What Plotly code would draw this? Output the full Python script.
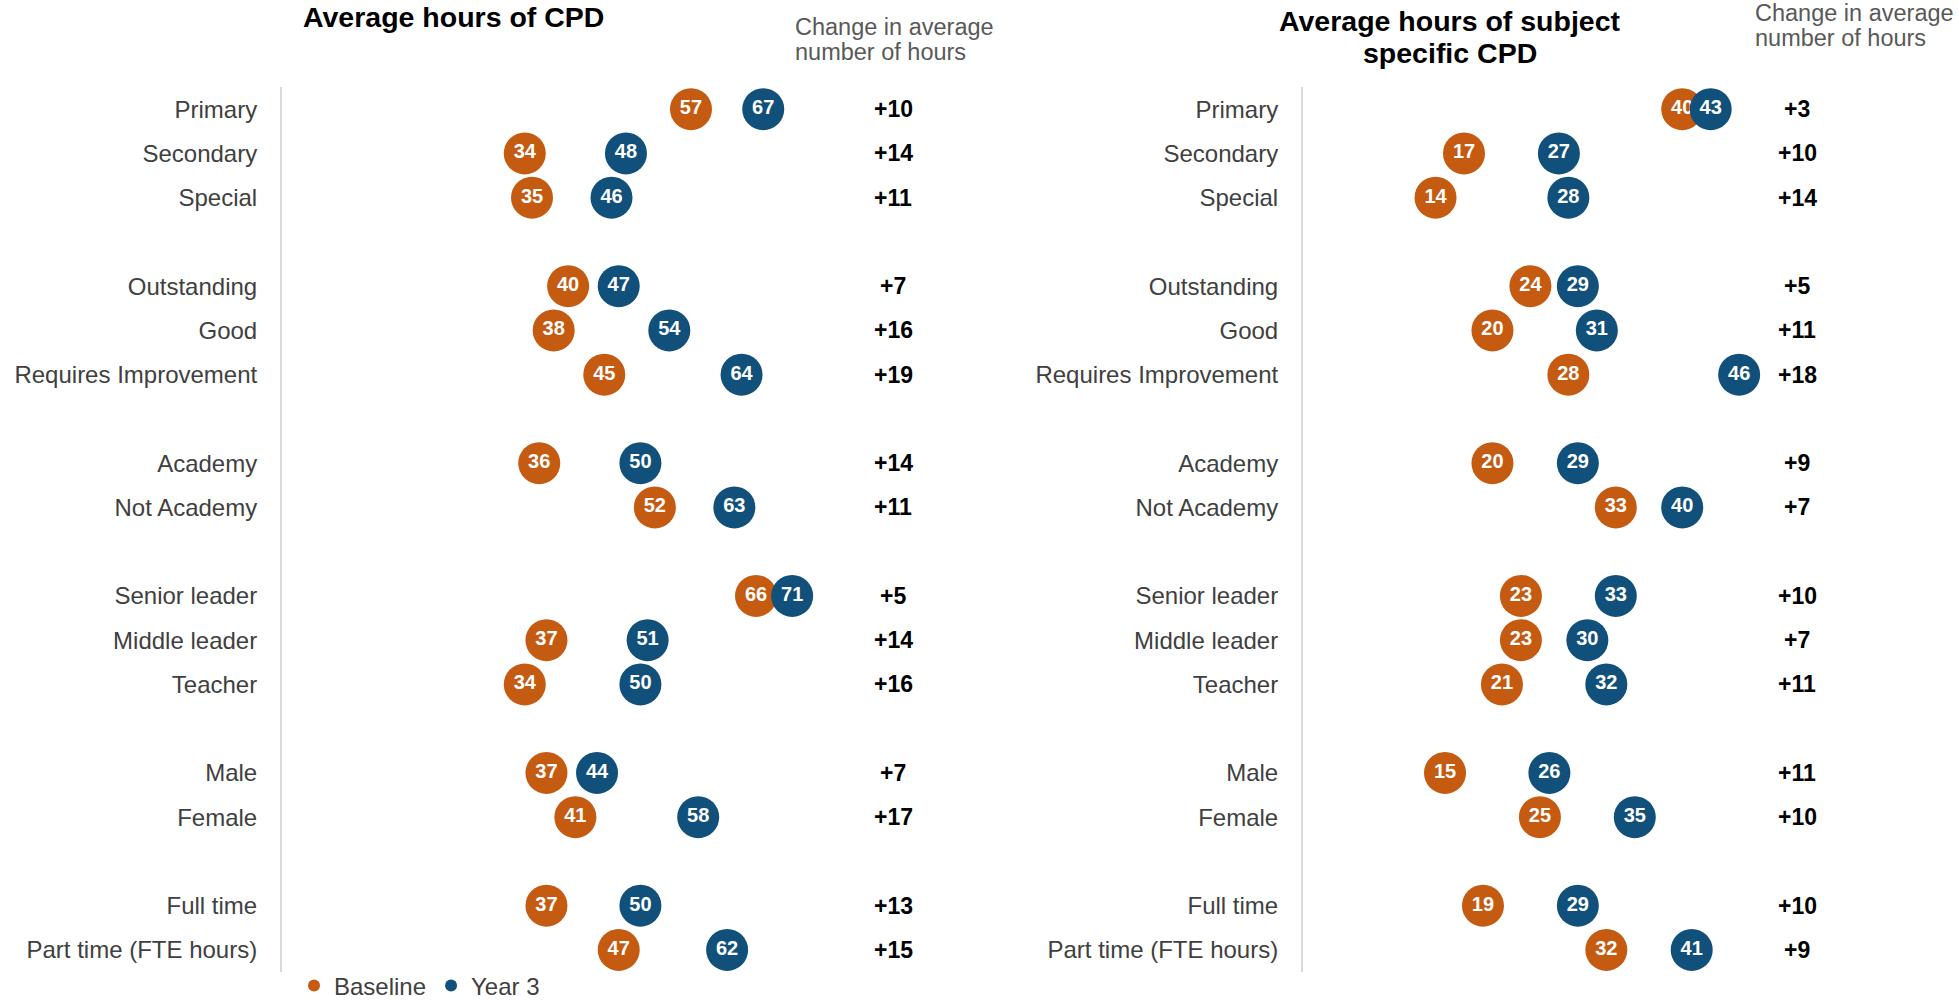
import plotly.graph_objects as go

# ---------------- data ----------------
groups = [
    ["Primary", "Secondary", "Special"],
    ["Outstanding", "Good", "Requires Improvement"],
    ["Academy", "Not Academy"],
    ["Senior leader", "Middle leader", "Teacher"],
    ["Male", "Female"],
    ["Full time", "Part time (FTE hours)"],
]

baseline_cpd = [57, 34, 35, 40, 38, 45, 36, 52, 66, 37, 34, 37, 41, 37, 47]
year3_cpd = [67, 48, 46, 47, 54, 64, 50, 63, 71, 51, 50, 44, 58, 50, 62]
change_cpd = ["+10", "+14", "+11", "+7", "+16", "+19", "+14", "+11", "+5", "+14", "+16", "+7", "+17", "+13", "+15"]

baseline_subj = [40, 17, 14, 24, 20, 28, 20, 33, 23, 23, 21, 15, 25, 19, 32]
year3_subj = [43, 27, 28, 29, 31, 46, 29, 40, 33, 30, 32, 26, 35, 29, 41]
change_subj = ["+3", "+10", "+14", "+5", "+11", "+18", "+9", "+7", "+10", "+7", "+11", "+11", "+10", "+10", "+9"]

series_names = ["Baseline", "Year 3"]
title_left = ["Average hours of CPD"]
title_right = ["Average hours of subject", "specific CPD"]
change_header = ["Change in average", "number of hours"]

# ---------------- layout helpers ----------------
W, H = 1959, 1000
ORANGE = "#C55A11"
BLUE = "#10507A"
FONT = "Liberation Sans, Arial, sans-serif"

labels, rows = [], []
r = 0
for g in groups:
    for lab in g:
        labels.append(lab)
        rows.append(r)
        r += 1
    r += 1  # blank spacer row between groups

def px(x):
    return x / W

def py(y):
    return 1 - y / H

fig = go.Figure()

panels = [
    ("x", "y", baseline_cpd, year3_cpd, change_cpd, 85.0),
    ("x2", "y2", baseline_subj, year3_subj, change_subj, 52.1),
]

for i, (xa, ya, base, yr3, chg, chg_x) in enumerate(panels):
    for name, vals, col in [(series_names[0], base, ORANGE), (series_names[1], yr3, BLUE)]:
        fig.add_trace(go.Scatter(
            x=vals, y=rows, xaxis=xa, yaxis=ya,
            mode="markers+text",
            name=name, legendgroup=name, showlegend=(i == 0),
            marker=dict(size=42, color=col, line=dict(width=0)),
            text=[str(v) for v in vals],
            textposition="middle center",
            textfont=dict(family=FONT, size=20, color="white", weight="bold"),
            hoverinfo="skip", cliponaxis=False,
        ))
    for rr, c in zip(rows, chg):
        fig.add_annotation(
            x=chg_x, y=rr, xref=xa, yref=ya, text="<b>%s</b>" % c,
            showarrow=False, xanchor="center", yanchor="middle",
            font=dict(family=FONT, size=23, color="black"),
        )

ydom = [py(972), py(87)]
yaxis_common = dict(
    range=[19.5, -0.5], tickmode="array", tickvals=rows, ticktext=labels,
    showline=True, linecolor="#D9D9D9", linewidth=2, ticks="",
    showgrid=False, zeroline=False, ticklabelstandoff=18, automargin=False,
    tickfont=dict(family=FONT, size=24, color="#404040"), domain=ydom,
)
fig.update_layout(
    width=W, height=H,
    margin=dict(l=0, r=0, t=0, b=0, pad=0, autoexpand=False),
    paper_bgcolor="white", plot_bgcolor="white",
    font=dict(family=FONT),
    xaxis=dict(domain=[px(282), px(960)], range=[(282 - 279.1) / 7.226, (960 - 279.1) / 7.226],
               visible=False),
    xaxis2=dict(domain=[px(1303), px(1900)], range=[(1303 - 1302.7) / 9.488, (1900 - 1302.7) / 9.488],
                visible=False),
    yaxis=dict(anchor="x", **yaxis_common),
    yaxis2=dict(anchor="x2", **yaxis_common),
    legend=dict(orientation="h", x=px(294), y=py(986), xanchor="left", yanchor="middle",
                font=dict(family=FONT, size=24, color="#404040"), itemsizing="constant",
                itemwidth=30, tracegroupgap=0, bgcolor="rgba(0,0,0,0)"),
    showlegend=True,
)

def add_text(x, y, text, size, color, xanchor, bold=False):
    fig.add_annotation(x=px(x), y=py(y), xref="paper", yref="paper",
                       text=("<b>%s</b>" % text) if bold else text,
                       showarrow=False, xanchor=xanchor, yanchor="middle",
                       font=dict(family=FONT, size=size, color=color))

# panel titles
add_text(453, 17.5, title_left[0], 28.5, "black", "center", bold=True)
add_text(1450, 21, title_right[0], 28.5, "black", "center", bold=True)
add_text(1450, 53, title_right[1], 28.5, "black", "center", bold=True)
# change column headers
add_text(793, 27.5, change_header[0], 23.5, "#595959", "left")
add_text(793, 52, change_header[1], 23.5, "#595959", "left")
add_text(1753, 13.5, change_header[0], 23.5, "#595959", "left")
add_text(1753, 38, change_header[1], 23.5, "#595959", "left")

fig.write_html("out.html", config={"displayModeBar": False},
               post_script="document.body.style.margin='0';")
